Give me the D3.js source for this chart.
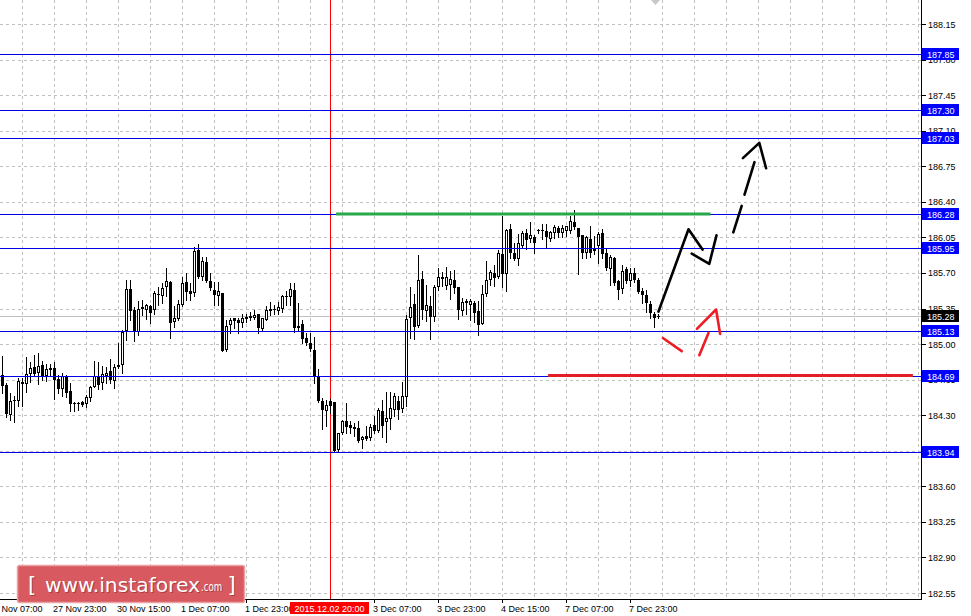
<!DOCTYPE html>
<html><head><meta charset="utf-8">
<script src="https://cdn.jsdelivr.net/npm/d3@7"></script>
<style>html,body{margin:0;padding:0;background:#fff;}svg{display:block;}</style>
</head><body>
<script>
// ---- data (H1 candles) ----
const opens = [184.70,184.60,184.30,184.44,184.44,184.63,184.61,184.71,184.77,184.72,
184.79,184.69,184.76,184.76,184.66,184.56,184.68,184.54,184.42,184.42,
184.43,184.41,184.47,184.58,184.69,184.62,184.69,184.73,184.64,184.79,
184.79,185.13,185.54,185.34,185.12,185.35,185.34,185.37,185.34,185.48,
185.47,185.56,185.61,185.22,185.25,185.38,185.61,185.52,185.50,185.93,
185.66,185.81,185.62,185.53,185.47,185.50,184.94,185.19,185.26,185.24,
185.21,185.25,185.26,185.26,185.30,185.15,185.24,185.33,185.35,185.33,
185.35,185.46,185.46,185.53,185.16,185.20,185.06,185.01,184.94,184.68,
184.44,184.34,184.44,184.43,183.96,184.12,184.24,184.20,184.18,184.17,
184.06,184.10,184.08,184.20,184.14,184.34,184.23,184.26,184.35,184.44,
184.36,184.48,185.26,185.39,185.18,185.64,185.33,185.37,185.27,185.56,
185.66,185.57,185.58,185.63,185.56,185.33,185.42,185.38,185.40,185.33,
185.20,185.49,185.63,185.70,185.66,185.89,185.69,186.13,185.90,185.84,
185.97,186.09,186.03,186.05,186.12,186.12,186.11,186.03,186.09,186.14,
186.09,186.11,186.11,186.20,186.14,186.07,185.90,186.03,185.95,185.97,
186.09,185.90,185.74,185.85,185.62,185.54,185.74,185.62,185.70,185.63,
185.52,185.48,185.39,185.30,185.27];
const highs = [184.88,184.62,184.52,184.49,184.67,184.67,184.87,184.82,184.89,184.91,
184.83,184.80,184.80,184.82,184.70,184.72,184.70,184.62,184.43,184.43,
184.44,184.50,184.59,184.83,184.82,184.78,184.77,184.85,184.80,185.01,
185.14,185.63,185.63,185.36,185.42,185.43,185.39,185.38,185.52,185.56,
185.60,185.75,185.62,185.37,185.43,185.66,185.70,185.60,185.96,185.98,
185.86,185.86,185.70,185.61,185.61,185.50,185.24,185.26,185.26,185.26,
185.30,185.30,185.32,185.34,185.30,185.26,185.37,185.41,185.38,185.41,
185.48,185.52,185.60,185.60,185.40,185.24,185.11,185.11,185.07,184.75,
184.47,184.45,184.46,184.43,184.12,184.25,184.42,184.24,184.22,184.24,
184.10,184.19,184.21,184.29,184.37,184.45,184.53,184.53,184.52,184.49,
184.63,185.29,185.56,185.49,185.88,185.72,185.58,185.47,185.58,185.75,
185.71,185.76,185.72,185.73,185.56,185.45,185.44,185.44,185.42,185.42,
185.58,185.82,185.73,185.78,185.93,186.26,186.13,186.18,185.99,186.08,
186.11,186.13,186.20,186.07,186.13,186.18,186.18,186.11,186.17,186.16,
186.17,186.16,186.26,186.32,186.14,186.07,186.06,186.16,186.06,186.10,
186.13,185.94,185.88,185.86,185.63,185.78,185.76,185.75,185.75,185.65,
185.55,185.53,185.42,185.32,185.30];
const lows = [184.52,184.28,184.25,184.23,184.39,184.39,184.53,184.63,184.69,184.61,
184.65,184.64,184.69,184.46,184.52,184.49,184.48,184.34,184.34,184.35,
184.39,184.38,184.44,184.58,184.56,184.56,184.62,184.62,184.57,184.76,
184.72,185.04,185.24,185.03,185.09,185.29,185.25,185.21,185.30,185.38,
185.40,185.47,185.06,185.17,185.24,185.37,185.43,185.43,185.47,185.65,
185.63,185.61,185.53,185.38,185.38,184.93,184.93,185.11,185.16,185.11,
185.17,185.22,185.24,185.25,185.11,185.14,185.24,185.29,185.30,185.30,
185.32,185.38,185.38,185.12,185.14,185.01,184.99,184.93,184.62,184.43,
184.16,184.19,184.32,183.94,183.95,184.11,184.12,184.12,184.10,184.04,
183.98,184.06,184.06,184.12,184.13,184.09,184.04,184.16,184.29,184.26,
184.33,184.39,185.06,185.05,185.17,185.25,185.23,185.05,185.23,185.53,
185.57,185.54,185.44,185.50,185.25,185.29,185.30,185.24,185.22,185.09,
185.20,185.47,185.58,185.57,185.65,185.56,185.52,185.85,185.83,185.78,
185.96,185.94,186.00,185.90,186.09,186.03,185.96,186.01,186.04,186.05,
186.05,186.06,186.09,186.13,185.69,185.85,185.85,185.86,185.89,185.80,
185.85,185.73,185.58,185.58,185.44,185.50,185.60,185.57,185.61,185.50,
185.40,185.32,185.26,185.17,185.26];
const closes = [184.59,184.31,184.44,184.45,184.64,184.61,184.71,184.76,184.71,184.78,
184.69,184.75,184.74,184.65,184.56,184.69,184.52,184.41,184.41,184.42,
184.40,184.48,184.58,184.69,184.60,184.71,184.72,184.65,184.77,184.77,
185.12,185.54,185.33,185.12,185.35,185.36,185.38,185.31,185.50,185.49,
185.55,185.62,185.21,185.26,185.39,185.60,185.51,185.49,185.92,185.66,
185.82,185.62,185.55,185.48,185.52,184.93,185.18,185.24,185.23,185.21,
185.26,185.27,185.28,185.29,185.16,185.26,185.34,185.35,185.35,185.36,
185.47,185.47,185.54,185.16,185.18,185.05,185.01,184.95,184.68,184.44,
184.35,184.40,184.39,183.95,184.12,184.24,184.18,184.17,184.16,184.05,
184.09,184.07,184.18,184.14,184.35,184.19,184.27,184.37,184.49,184.35,
184.49,185.25,185.36,185.17,185.63,185.34,185.38,185.27,185.56,185.66,
185.64,185.66,185.64,185.55,185.34,185.41,185.40,185.42,185.31,185.19,
185.49,185.63,185.71,185.65,185.90,185.69,186.12,185.90,185.84,185.99,
186.09,186.02,186.07,185.99,186.11,186.12,186.05,186.10,186.15,186.09,
186.14,186.16,186.21,186.15,186.05,185.90,186.05,185.90,185.92,186.08,
185.89,185.75,185.86,185.60,185.53,185.72,185.62,185.70,185.63,185.51,
185.48,185.40,185.31,185.26,185.28];

const yTicks = [188.15,187.80,187.45,187.10,186.75,186.40,186.05,185.70,185.35,185.00,184.65,184.30,183.95,183.60,183.25,182.90,182.55];
const levels = [187.85,187.30,187.03,186.28,185.95,185.13,184.69,183.94];
const bidPrice = 185.28;
const timeLabels = ["26 Nov 07:00","27 Nov 23:00","30 Nov 15:00","1 Dec 07:00","1 Dec 23:00","3 Dec 07:00","3 Dec 23:00","4 Dec 15:00","7 Dec 07:00","7 Dec 23:00"];
const timeLabelBars = [-3,13,29,45,61,93,109,125,141,157];
const markerBar = 82;
const markerLabel = "2015.12.02 20:00";
const resistanceLine = [[83.4,186.28],[177.0,186.28]];
const supportLine = [[136.4,184.69],[227.6,184.69]];
const forecastUp1 = [[164.0,185.32],[171.5,186.13],[175.0,185.93]];
const forecastUp2 = [[172.3,185.89],[176.7,185.79],[178.5,186.07]];
const forecastDash1 = [[182.7,186.10],[184.8,186.36]];
const forecastDash2 = [[185.5,186.47],[188.0,186.79]];
const forecastHead = [[185.1,186.83],[189.2,186.98],[190.9,186.73]];
const altDown = [[165.1,185.06],[169.8,184.93]];
const altUp = [[174.2,184.89],[176.5,185.11]];
const altHead = [[173.6,185.15],[178.4,185.34],[179.4,185.10]];

// ---- layout ----
const W = 971, H = 616, plotR = 921, plotB = 599;
const font = "Liberation Sans, Arial, sans-serif";
const svg = d3.select("body").append("svg").attr("width", W).attr("height", H)
  .style("font-family", font);
const x = d3.scaleLinear().domain([0, 164]).range([2.5, 658.5]);
const y = d3.scaleLinear().domain([182.55, 188.15]).range([593, 24]);
const py = v => Math.round(y(v)) + 0.5;

svg.append("defs").append("clipPath").attr("id", "plot")
  .append("rect").attr("x", 0).attr("y", 0).attr("width", plotR).attr("height", plotB);
const g = svg.append("g").attr("clip-path", "url(#plot)");

// grid
g.selectAll("line.hg").data(yTicks).join("line").attr("class", "hg")
  .attr("x1", 0).attr("x2", plotR).attr("y1", d => py(d)).attr("y2", d => py(d))
  .attr("stroke", "#c0c0c0").attr("stroke-dasharray", "3,3");
const gridBars = d3.range(5, 230, 8);
g.selectAll("line.vg").data(gridBars).join("line").attr("class", "vg")
  .attr("x1", d => x(d)).attr("x2", d => x(d)).attr("y1", 0).attr("y2", plotB)
  .attr("stroke", "#c0c0c0").attr("stroke-dasharray", "3,3");

// bid line
g.append("line").attr("x1", 0).attr("x2", plotR).attr("y1", py(bidPrice)).attr("y2", py(bidPrice))
  .attr("stroke", "#c0c0c0");

// red vertical marker
g.append("line").attr("x1", x(markerBar)).attr("x2", x(markerBar)).attr("y1", 0).attr("y2", plotB)
  .attr("stroke", "#ff0000");

// candles
const bars = opens.map((o, i) => ({i, o, h: highs[i], l: lows[i], c: closes[i]}));
g.selectAll("line.wick").data(bars).join("line").attr("class", "wick")
  .attr("x1", d => x(d.i)).attr("x2", d => x(d.i))
  .attr("y1", d => Math.round(y(d.h))).attr("y2", d => Math.round(y(d.l)) + 1)
  .attr("stroke", "#000");
bars.forEach(d => {
  let top = Math.round(y(Math.max(d.o, d.c)));
  let bot = Math.round(y(Math.min(d.o, d.c)));
  if (bot - top < 1) bot = top + 1;
  const bull = d.c > d.o;
  if (!bull || bot - top <= 2) {
    g.append("rect").attr("x", x(d.i) - 1.5).attr("y", top).attr("width", 3).attr("height", bot - top).attr("fill", "#000");
  } else {
    g.append("rect").attr("x", x(d.i) - 1).attr("y", top + 0.5).attr("width", 2).attr("height", bot - top - 1)
      .attr("fill", "#fff").attr("stroke", "#000");
  }
});

// level lines
g.selectAll("line.lvl").data(levels).join("line").attr("class", "lvl")
  .attr("x1", 0).attr("x2", plotR).attr("y1", d => py(d)).attr("y2", d => py(d))
  .attr("stroke", "#0000e6");

const line = d3.line().x(d => x(d[0])).y(d => y(d[1]));
g.append("path").attr("d", line(resistanceLine)).attr("stroke", "#27a84a").attr("stroke-width", 3).attr("fill", "none");
g.append("path").attr("d", line(supportLine)).attr("stroke", "#e41e26").attr("stroke-width", 3).attr("fill", "none");

[forecastUp1, forecastUp2, forecastDash1, forecastDash2, forecastHead].forEach(p =>
  g.append("path").attr("d", line(p)).attr("stroke", "#000").attr("stroke-width", 2.6)
    .attr("fill", "none").attr("stroke-linecap", "round").attr("stroke-linejoin", "round"));
[altDown, altUp, altHead].forEach(p =>
  g.append("path").attr("d", line(p)).attr("stroke", "#ee1c25").attr("stroke-width", 2.6)
    .attr("fill", "none").attr("stroke-linecap", "round").attr("stroke-linejoin", "round"));

// chart shift marker
svg.append("path").attr("d", "M651,0 L660,0 L655.5,5 Z").attr("fill", "#c8c8c8");

// axes lines
svg.append("line").attr("x1", plotR + 0.5).attr("x2", plotR + 0.5).attr("y1", 0).attr("y2", plotB + 1).attr("stroke", "#000");
svg.append("line").attr("x1", 0).attr("x2", plotR + 1).attr("y1", plotB + 0.5).attr("y2", plotB + 0.5).attr("stroke", "#000");

// right axis ticks + labels
svg.selectAll("line.yt").data(yTicks).join("line").attr("class", "yt")
  .attr("x1", plotR + 1).attr("x2", plotR + 5).attr("y1", d => py(d)).attr("y2", d => py(d)).attr("stroke", "#000");
svg.selectAll("text.yl").data(yTicks).join("text").attr("class", "yl")
  .attr("x", 928).attr("y", d => y(d) + 3.5).attr("font-size", 9).attr("fill", "#000")
  .text(d => d.toFixed(2));

// level price boxes
levels.forEach(v => {
  const cy = Math.round(y(v));
  svg.append("rect").attr("x", 922).attr("y", cy - 6).attr("width", 37).attr("height", 12).attr("fill", "#0000ff");
  svg.append("text").attr("x", 927).attr("y", cy + 3.5).attr("font-size", 9).attr("fill", "#fff").text(v.toFixed(2));
});
{
  const cy = Math.round(y(bidPrice));
  svg.append("rect").attr("x", 922).attr("y", cy - 6).attr("width", 37).attr("height", 12).attr("fill", "#000");
  svg.append("text").attr("x", 927).attr("y", cy + 3.5).attr("font-size", 9).attr("fill", "#fff").text(bidPrice.toFixed(2));
}

// bottom axis ticks + labels
svg.selectAll("line.xt").data(timeLabelBars).join("line").attr("class", "xt")
  .attr("x1", d => x(d)).attr("x2", d => x(d)).attr("y1", plotB + 1).attr("y2", plotB + 4).attr("stroke", "#000");
svg.selectAll("text.xl").data(timeLabels).join("text").attr("class", "xl")
  .attr("x", (d, i) => x(timeLabelBars[i]) - 1.5).attr("y", 612).attr("font-size", 9).attr("fill", "#000")
  .text(d => d);
// red time marker label
svg.append("rect").attr("x", x(markerBar) - 40.5).attr("y", 602).attr("width", 79).attr("height", 12).attr("fill", "#ff0000");
svg.append("text").attr("x", x(markerBar) - 36).attr("y", 612).attr("font-size", 9).attr("fill", "#fff").text(markerLabel);

// watermark
const wm = svg.append("g");
wm.append("rect").attr("x", 17.5).attr("y", 565.5).attr("width", 227).attr("height", 37).attr("rx", 2)
  .attr("fill", "#d85a60").attr("stroke", "#eaa2a5").attr("stroke-width", 1.5);
const wmFont = "DejaVu Sans, Verdana, sans-serif";
[[1, "#8a2a2e"], [0, "#ffffff"]].forEach(([o, col]) => {
  const t = wm.append("text").attr("font-family", wmFont).attr("fill", col).attr("opacity", o ? 0.6 : 1);
  t.append("tspan").attr("x", 28 + o).attr("y", 592 + o).attr("font-size", 21).text("[");
  t.append("tspan").attr("x", 45 + o).attr("y", 592 + o).attr("font-size", 20)
    .attr("textLength", 155).attr("lengthAdjust", "spacingAndGlyphs").text("www.instaforex");
  t.append("tspan").attr("x", 201 + o).attr("y", 591 + o).attr("font-size", 12)
    .attr("textLength", 21).attr("lengthAdjust", "spacingAndGlyphs").text(".com");
  t.append("tspan").attr("x", 227.5 + o).attr("y", 592 + o).attr("font-size", 21).text("]");
});
</script>
</body></html>
